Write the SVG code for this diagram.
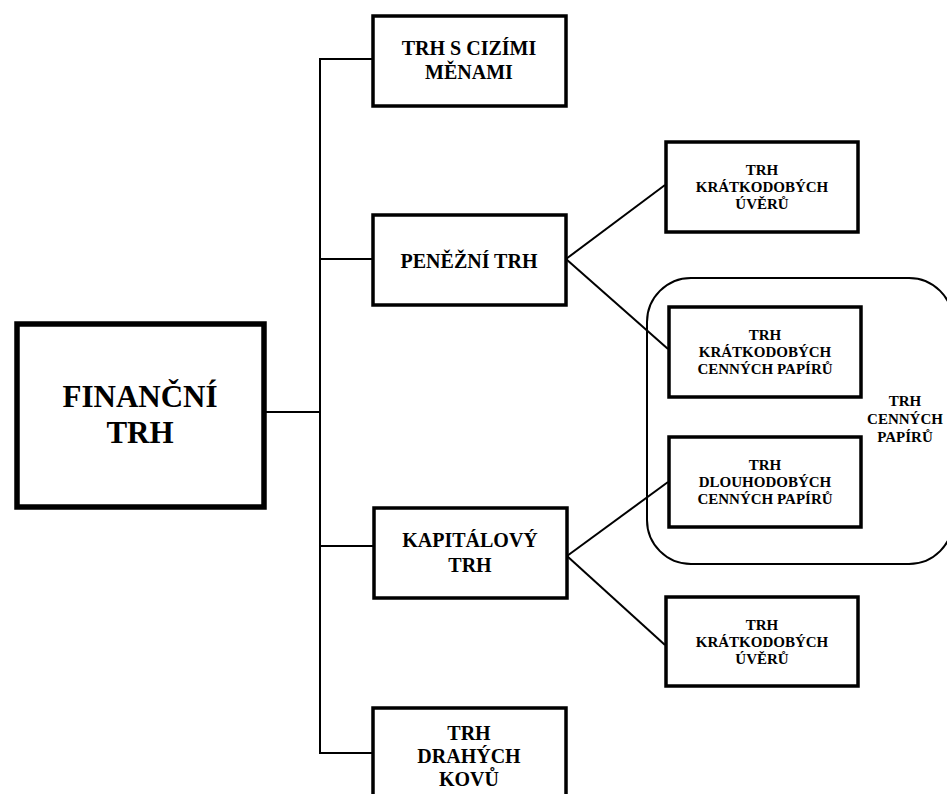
<svg xmlns="http://www.w3.org/2000/svg" width="947" height="794" viewBox="0 0 947 794">
<style>
.box{fill:#fff;stroke:#000;stroke-width:3.5}
.main{fill:#fff;stroke:#000;stroke-width:5.5}
.grp{fill:none;stroke:#000;stroke-width:2}
.con{fill:none;stroke:#000;stroke-width:2}
text{font-family:"Liberation Serif","Times New Roman",serif;font-weight:bold;fill:#000;text-anchor:middle}
.t31{font-size:31px}
.t20{font-size:20px}
.t15{font-size:15px}
</style>
<rect width="947" height="794" fill="#fff"/>
<g id="group-cenne-papiry">
<rect class="grp" x="647" y="278" width="306" height="286" rx="44" ry="44"/>
<text class="t15" x="905"><tspan x="905" y="406">TRH</tspan><tspan x="905" y="424">CENNÝCH</tspan><tspan x="905" y="442">PAPÍRŮ</tspan></text>
</g>
<g id="connectors">
<polyline class="con" points="372,59 320,59 320,753 372,753"/>
<line class="con" x1="265" y1="412" x2="320" y2="412"/>
<line class="con" x1="320" y1="259" x2="372" y2="259"/>
<line class="con" x1="320" y1="546" x2="373" y2="546"/>
<line class="con" x1="566" y1="259" x2="665" y2="185"/>
<line class="con" x1="566" y1="259" x2="668" y2="349"/>
<line class="con" x1="567" y1="556" x2="668" y2="482"/>
<line class="con" x1="567" y1="556" x2="665" y2="645"/>
</g>
<g id="financni-trh">
<rect class="main" x="17" y="324" width="247" height="183"/>
<text class="t31"><tspan x="140" y="407">FINANČNÍ</tspan><tspan x="140" y="443">TRH</tspan></text>
</g>
<g id="trh-cizimi-menami">
<rect class="box" x="373" y="16" width="193" height="90"/>
<text class="t20"><tspan x="469" y="55">TRH S CIZÍMI</tspan><tspan x="469" y="79">MĚNAMI</tspan></text>
</g>
<g id="penezni-trh">
<rect class="box" x="373" y="215" width="193" height="90"/>
<text class="t20"><tspan x="469" y="268">PENĚŽNÍ TRH</tspan></text>
</g>
<g id="kapitalovy-trh">
<rect class="box" x="374" y="508" width="193" height="90"/>
<text class="t20"><tspan x="470" y="547">KAPITÁLOVÝ</tspan><tspan x="470" y="572">TRH</tspan></text>
</g>
<g id="trh-drahych-kovu">
<rect class="box" x="373" y="708" width="193" height="100"/>
<text class="t20"><tspan x="469" y="740">TRH</tspan><tspan x="469" y="763">DRAHÝCH</tspan><tspan x="469" y="786">KOVŮ</tspan></text>
</g>
<g id="trh-kratkodobych-uveru-1">
<rect class="box" x="666" y="142" width="192" height="90"/>
<text class="t15"><tspan x="762" y="175">TRH</tspan><tspan x="762" y="192">KRÁTKODOBÝCH</tspan><tspan x="762" y="209">ÚVĚRŮ</tspan></text>
</g>
<g id="trh-kratkodobych-cennych-papiru">
<rect class="box" x="669" y="307" width="192" height="90"/>
<text class="t15"><tspan x="765" y="340">TRH</tspan><tspan x="765" y="357">KRÁTKODOBÝCH</tspan><tspan x="765" y="374">CENNÝCH PAPÍRŮ</tspan></text>
</g>
<g id="trh-dlouhodobych-cennych-papiru">
<rect class="box" x="669" y="437" width="192" height="90"/>
<text class="t15"><tspan x="765" y="470">TRH</tspan><tspan x="765" y="487">DLOUHODOBÝCH</tspan><tspan x="765" y="504">CENNÝCH PAPÍRŮ</tspan></text>
</g>
<g id="trh-kratkodobych-uveru-2">
<rect class="box" x="666" y="597" width="192" height="89"/>
<text class="t15"><tspan x="762" y="630">TRH</tspan><tspan x="762" y="647">KRÁTKODOBÝCH</tspan><tspan x="762" y="664">ÚVĚRŮ</tspan></text>
</g>
</svg>
